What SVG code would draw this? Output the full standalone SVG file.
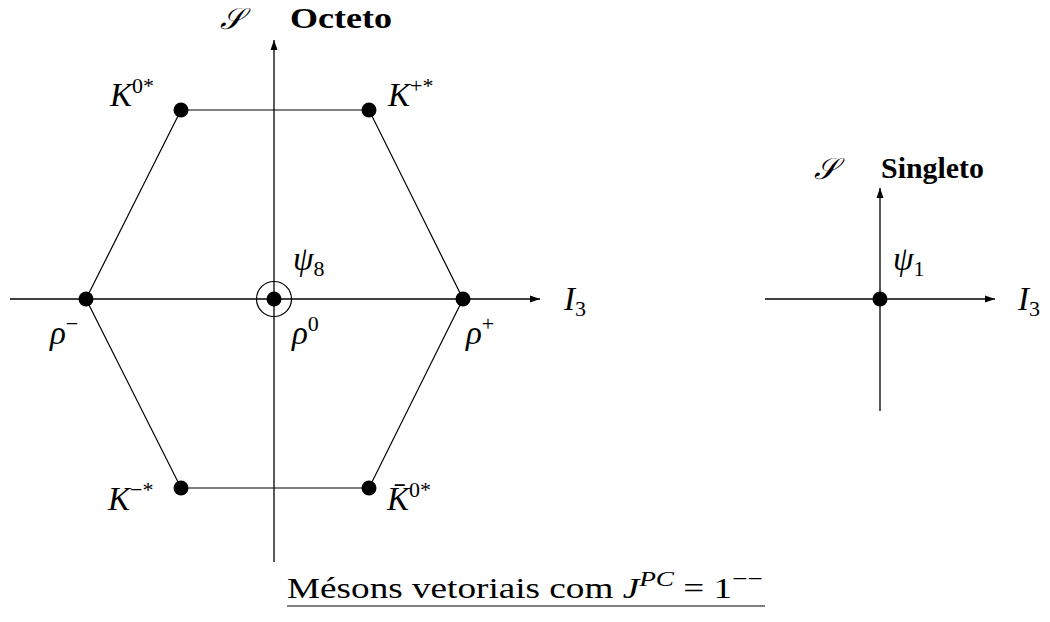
<svg xmlns="http://www.w3.org/2000/svg" width="1050" height="622" viewBox="0 0 1050 622">
<style>
.ax{stroke:#000;stroke-width:1.3;fill:none}
.ed{stroke:#000;stroke-width:1.2;fill:none}
.t{font-family:"Liberation Serif","DejaVu Serif",serif;font-size:30px;fill:#000}
.L{font-size:33px}
.i{font-style:italic}
.b{font-weight:bold}
.s{font-size:22px;font-style:normal}
.si{font-size:22px;font-style:italic}
</style>
<defs>
<marker id="ar" viewBox="0 0 10 10" refX="10" refY="5" markerWidth="10" markerHeight="10" markerUnits="userSpaceOnUse" orient="auto">
<path d="M0,1.5 L10,5 L0,8.5 Z" fill="#000"/>
</marker>
</defs>
<rect width="1050" height="622" fill="#fff"/>
<g id="connectors">
<line class="ax" x1="274" y1="562" x2="274" y2="40" marker-end="url(#ar)"/>
<line class="ax" x1="10" y1="299" x2="540" y2="299" marker-end="url(#ar)"/>
<polyline class="ed" points="181,110 369,110 463,299 369,488 181,488 86,299 181,110"/>
<line class="ax" x1="880" y1="411" x2="880" y2="188" marker-end="url(#ar)"/>
<line class="ax" x1="765" y1="299" x2="995" y2="299" marker-end="url(#ar)"/>
</g>
<g id="axis-labels">
<text class="t i" x="220" y="29">𝒮</text>
<text class="t b" x="290" y="28" textLength="102" lengthAdjust="spacingAndGlyphs">Octeto</text>
<text class="t L i" x="564" y="310">I<tspan class="s" dy="6">3</tspan></text>
<text class="t i" x="814" y="179">𝒮</text>
<text class="t b" x="881" y="178" textLength="103" lengthAdjust="spacingAndGlyphs">Singleto</text>
<text class="t L i" x="1018" y="310">I<tspan class="s" dy="6">3</tspan></text>
</g>
<g id="node-K0star"><circle cx="181" cy="110" r="7.5"/><text class="t L i" x="110" y="106">K<tspan class="s" dy="-13">0*</tspan></text></g>
<g id="node-Kplusstar"><circle cx="369" cy="110" r="7.5"/><text class="t L i" x="388" y="106">K<tspan class="s" dy="-13">+*</tspan></text></g>
<g id="node-rhominus"><circle cx="86" cy="299" r="7.5"/><text class="t L i" x="50" y="344">ρ<tspan class="s" dy="-13">−</tspan></text></g>
<g id="node-center"><circle cx="274" cy="299" r="17.5" fill="none" stroke="#000" stroke-width="1.2"/><circle cx="274" cy="299" r="7.5"/><text class="t L i" x="293" y="270">ψ<tspan class="s" dy="6">8</tspan></text><text class="t L i" x="292" y="344">ρ<tspan class="s" dy="-13">0</tspan></text></g>
<g id="node-rhoplus"><circle cx="463" cy="299" r="7.5"/><text class="t L i" x="466" y="344">ρ<tspan class="s" dy="-13">+</tspan></text></g>
<g id="node-Kminusstar"><circle cx="181" cy="488" r="7.5"/><text class="t L i" x="108" y="510">K<tspan class="s" dy="-13">−*</tspan></text></g>
<g id="node-K0barstar"><circle cx="369" cy="488" r="7.5"/><text class="t L i" x="387" y="510">K̄<tspan class="s" dy="-13">0*</tspan></text></g>
<g id="node-psi1"><circle cx="880" cy="299" r="7.5"/><text class="t L i" x="893" y="270">ψ<tspan class="s" dy="6">1</tspan></text></g>
<g id="caption">
<text class="t" x="287" y="598" textLength="476" lengthAdjust="spacingAndGlyphs">Mésons vetoriais com <tspan font-style="italic">J</tspan><tspan class="si" dy="-12">PC</tspan><tspan dy="12"> = 1</tspan><tspan class="s" dy="-12">−−</tspan></text>
<line x1="287" y1="606" x2="765" y2="606" stroke="#000" stroke-width="1.2"/>
</g>
</svg>
